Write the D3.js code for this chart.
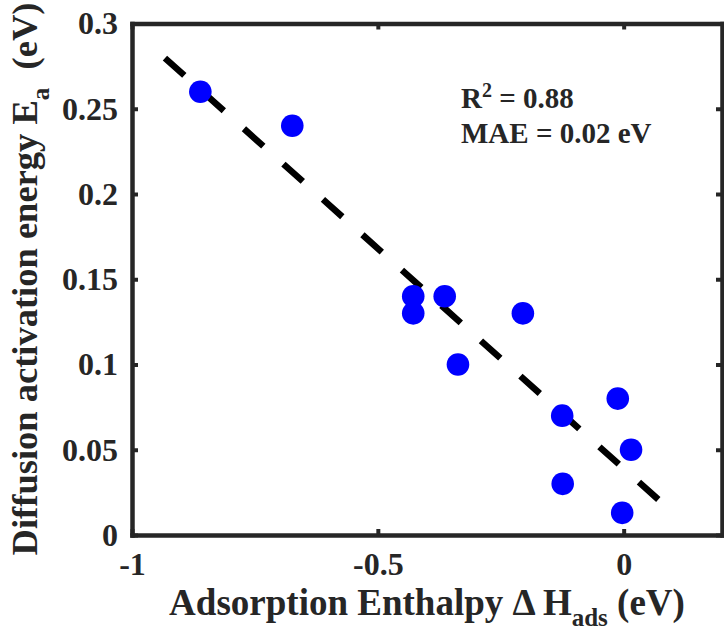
<!DOCTYPE html>
<html>
<head>
<meta charset="utf-8">
<script src="https://cdn.jsdelivr.net/npm/d3@7"></script>
<style>
  html, body { margin: 0; padding: 0; background: #fff; }
  svg { display: block; }
  text { font-family: "Liberation Serif", "Times New Roman", serif; font-weight: bold; fill: #262626; }
</style>
</head>
<body>
<svg id="chart" width="724" height="634"></svg>
<script>
// Adsorption enthalpy (eV) vs diffusion activation energy (eV)
const enthalpy = [-0.861, -0.674, -0.428, -0.428, -0.364, -0.337, -0.205, -0.125, -0.012, 0.015, -0.124, -0.003];
const activation = [0.26, 0.24, 0.14, 0.13, 0.14, 0.10, 0.13, 0.07, 0.08, 0.05, 0.03, 0.013];

// Linear fit drawn as dashed line: Ea = intercept + slope * dH
const fitSlope = -0.258;
const fitIntercept = 0.039;
const fitRange = [-0.933, 0.079];

const xTicks = [-1, -0.5, 0];
const xTickLabels = ["-1", "-0.5", "0"];
const yTicks = [0, 0.05, 0.1, 0.15, 0.2, 0.25, 0.3];
const yTickLabels = ["0", "0.05", "0.1", "0.15", "0.2", "0.25", "0.3"];

const statsLines = [["R", "2", " = 0.88"], ["MAE = 0.02 eV"]];

const svg = d3.select("#chart");
const plotLeft = 132, plotRight = 722, plotTop = 23.5, plotBottom = 535;

const x = d3.scaleLinear().domain([-1, 0.2]).range([plotLeft, plotRight]);
const y = d3.scaleLinear().domain([0, 0.3]).range([plotBottom, plotTop]);

const axisColor = "#262626";

// fit line
const fitData = fitRange.map(v => [v, fitIntercept + fitSlope * v]);
svg.append("path")
  .attr("d", d3.line().x(d => x(d[0])).y(d => y(d[1]))(fitData))
  .attr("stroke", "#000")
  .attr("stroke-width", 6.5)
  .attr("stroke-dasharray", "26,27")
  .attr("fill", "none");

// points
svg.append("g").selectAll("circle")
  .data(enthalpy.map((v, i) => [v, activation[i]]))
  .join("circle")
  .attr("cx", d => x(d[0]))
  .attr("cy", d => y(d[1]))
  .attr("r", 11.3)
  .attr("fill", "#0000ff");

// box axes with inward ticks
const tickLen = 6;
const tickFont = "32px";
const axB = d3.axisBottom(x).tickValues(xTicks).tickFormat((d, i) => xTickLabels[i]).tickSizeInner(-tickLen).tickSizeOuter(0).tickPadding(17);
const axT = d3.axisTop(x).tickValues(xTicks).tickFormat("").tickSizeInner(-tickLen).tickSizeOuter(0);
const axL = d3.axisLeft(y).tickValues(yTicks).tickFormat((d, i) => yTickLabels[i]).tickSizeInner(-tickLen).tickSizeOuter(0).tickPadding(14);
const axR = d3.axisRight(y).tickValues(yTicks).tickFormat("").tickSizeInner(-tickLen).tickSizeOuter(0);

function styleAxis(g) {
  g.select(".domain").attr("stroke", axisColor).attr("stroke-width", 4.5).attr("stroke-linecap", "square");
  g.selectAll(".tick line").attr("stroke", axisColor).attr("stroke-width", 4);
  g.selectAll(".tick text").attr("fill", axisColor)
    .style("font-family", '"Liberation Serif", serif').style("font-weight", "bold").style("font-size", tickFont);
}

svg.append("g").attr("transform", `translate(0,${plotBottom})`).call(axB).call(styleAxis);
svg.append("g").attr("transform", `translate(0,${plotTop})`).call(axT).call(styleAxis);
svg.append("g").attr("transform", `translate(${plotLeft},0)`).call(axL).call(styleAxis);
svg.append("g").attr("transform", `translate(${plotRight},0)`).call(axR).call(styleAxis);

// stats annotation
const st = svg.append("text").attr("x", 461).attr("y", 108).style("font-size", "29px");
st.append("tspan").text(statsLines[0][0]);
st.append("tspan").text(statsLines[0][1]).attr("dy", -11).style("font-size", "20px");
st.append("tspan").text(statsLines[0][2]).attr("dy", 11);
svg.append("text").attr("x", 461).attr("y", 143).style("font-size", "29px").text(statsLines[1][0]);

// x axis title
const xt = svg.append("text").attr("x", 427).attr("y", 615).attr("text-anchor", "middle").style("font-size", "37px");
xt.append("tspan").text("Adsorption Enthalpy \u0394 H");
xt.append("tspan").text("ads").attr("dy", 11).style("font-size", "25px");
xt.append("tspan").text(" (eV)").attr("dy", -11);

// y axis title
const yt = svg.append("text").attr("transform", "translate(37,279) rotate(-90)").attr("text-anchor", "middle").style("font-size", "36.5px");
yt.append("tspan").text("Diffusion activation energy E");
yt.append("tspan").text("a").attr("dy", 12).style("font-size", "25px");
yt.append("tspan").text("\u00a0 (eV)").attr("dy", -12);
</script>
</body>
</html>
